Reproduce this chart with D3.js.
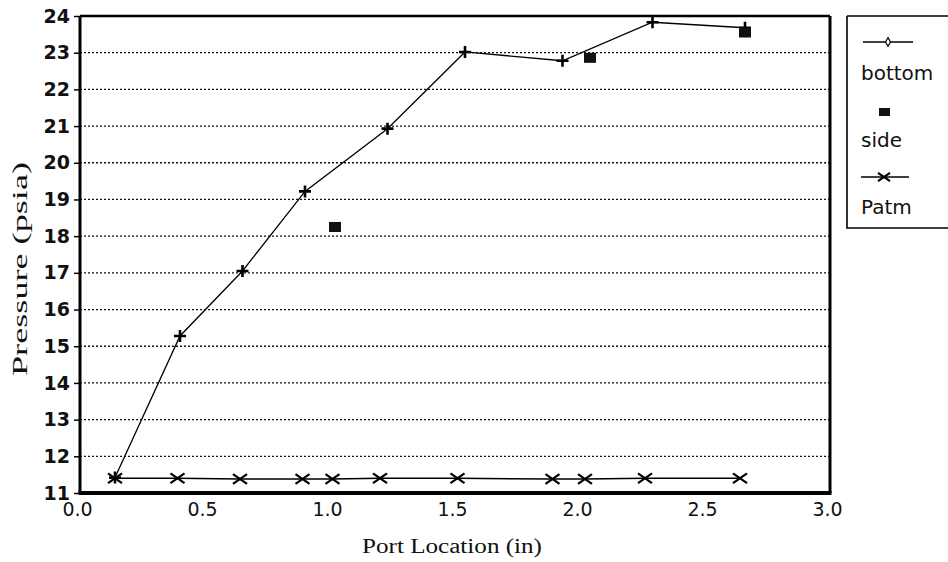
<!DOCTYPE html>
<html>
<head>
<meta charset="utf-8">
<script src="https://cdn.jsdelivr.net/npm/d3@7"></script>
<style>
  body { margin: 0; background: #fff; }
  svg { display: block; }
</style>
</head>
<body>
<div id="container"></div>
<script>
// values
const bottomX = [0.14, 0.40, 0.65, 0.90, 1.23, 1.54, 1.93, 2.29, 2.66];
const bottomY = [11.42, 15.28, 17.05, 19.22, 20.93, 23.02, 22.78, 23.83, 23.68];
const sideX = [1.02, 2.04, 2.66];
const sideY = [18.25, 22.86, 23.55];
const patmX = [0.14, 0.39, 0.64, 0.89, 1.01, 1.20, 1.51, 1.89, 2.02, 2.26, 2.64];
const patmY = [11.4, 11.4, 11.38, 11.38, 11.38, 11.4, 11.4, 11.38, 11.38, 11.4, 11.4];
const xTicks = [0, 0.5, 1, 1.5, 2, 2.5, 3];
const yTicks = [11, 12, 13, 14, 15, 16, 17, 18, 19, 20, 21, 22, 23, 24];
const legendNames = ["bottom", "side", "Patm"];

const width = 948, height = 562;
const margin = { top: 16, right: 118, bottom: 69, left: 80 };

const svg = d3.select("#container")
  .append("svg")
  .attr("width", width)
  .attr("height", height);

svg.append("rect").attr("width", width).attr("height", height).attr("fill", "white");

const x = d3.scaleLinear().domain([0, 3]).range([margin.left, width - margin.right]);
const y = d3.scaleLinear().domain([11, 24]).range([height - margin.bottom, margin.top]);

// dotted grid
svg.append("g")
  .selectAll("line")
  .data(yTicks.filter(d => d > 11 && d < 24))
  .join("line")
  .attr("x1", x(0)).attr("x2", x(3))
  .attr("y1", d => y(d)).attr("y2", d => y(d))
  .attr("stroke", "#111")
  .attr("stroke-width", 1.3)
  .attr("stroke-dasharray", "2,2");

// y axis
const yAxis = svg.append("g")
  .attr("transform", `translate(${x(0)},0)`)
  .call(d3.axisLeft(y).tickValues(yTicks).tickFormat(d3.format("d")).tickSize(6).tickPadding(4));
yAxis.select(".domain").remove();
yAxis.selectAll("line").attr("stroke", "#000").attr("stroke-width", 1.5);
yAxis.selectAll("text")
  .attr("font-family", "DejaVu Sans, Arial, sans-serif")
  .attr("font-size", 19)
  .attr("font-weight", "bold")
  .attr("fill", "#111");

// x axis labels
const xAxis = svg.append("g")
  .attr("transform", `translate(0,${y(11)})`)
  .call(d3.axisBottom(x).tickValues(xTicks).tickFormat(d3.format(".1f")).tickSize(0).tickPadding(10));
xAxis.select(".domain").remove();
xAxis.selectAll("text")
  .attr("x", -3)
  .attr("font-family", "DejaVu Sans, Arial, sans-serif")
  .attr("font-size", 19)
  .attr("fill", "#111");

// frame
svg.append("line").attr("x1", x(0)).attr("x2", x(3)).attr("y1", y(24)).attr("y2", y(24))
  .attr("stroke", "#000").attr("stroke-width", 2.5);
svg.append("line").attr("x1", x(0)).attr("x2", x(0)).attr("y1", y(24)).attr("y2", y(11))
  .attr("stroke", "#000").attr("stroke-width", 3);
svg.append("line").attr("x1", x(3)).attr("x2", x(3)).attr("y1", y(24)).attr("y2", y(11))
  .attr("stroke", "#000").attr("stroke-width", 3);
svg.append("line").attr("x1", x(0) - 1.5).attr("x2", x(3) + 1.5).attr("y1", y(11)).attr("y2", y(11))
  .attr("stroke", "#000").attr("stroke-width", 4);

// axis titles
svg.append("text")
  .attr("x", 362)
  .attr("y", 553)
  .attr("textLength", 180)
  .attr("lengthAdjust", "spacingAndGlyphs")
  .attr("font-family", "Liberation Serif, Times New Roman, serif")
  .attr("font-size", 20)
  .attr("fill", "#111")
  .text("Port Location (in)");

svg.append("text")
  .attr("transform", "translate(27,376) rotate(-90)")
  .attr("textLength", 214)
  .attr("lengthAdjust", "spacingAndGlyphs")
  .attr("font-family", "Liberation Serif, Times New Roman, serif")
  .attr("font-size", 20)
  .attr("fill", "#111")
  .text("Pressure (psia)");

const line = d3.line().x(d => x(d[0])).y(d => y(d[1]));
const bottomData = d3.zip(bottomX, bottomY);
const sideData = d3.zip(sideX, sideY);
const patmData = d3.zip(patmX, patmY);

const plusPath = s => `M${-s},0H${s}M0,${-s}V${s}`;
const xPath = s => `M${-s},${-s * 0.7}L${s},${s * 0.7}M${-s},${s * 0.7}L${s},${-s * 0.7}`;

// Patm series
svg.append("path").datum(patmData).attr("d", line)
  .attr("fill", "none").attr("stroke", "#000").attr("stroke-width", 1.6);
svg.append("g").selectAll("path").data(patmData).join("path")
  .attr("transform", d => `translate(${x(d[0])},${y(d[1])})`)
  .attr("d", xPath(7))
  .attr("fill", "none").attr("stroke", "#000").attr("stroke-width", 2.2);

// bottom series
svg.append("path").datum(bottomData).attr("d", line)
  .attr("fill", "none").attr("stroke", "#000").attr("stroke-width", 1.3);
svg.append("g").selectAll("path").data(bottomData).join("path")
  .attr("transform", d => `translate(${x(d[0])},${y(d[1])})`)
  .attr("d", plusPath(6))
  .attr("fill", "none").attr("stroke", "#000").attr("stroke-width", 2.6);

// side series
svg.append("g").selectAll("rect").data(sideData).join("rect")
  .attr("x", d => x(d[0]) - 6)
  .attr("y", d => y(d[1]) - 5)
  .attr("width", 12)
  .attr("height", 10)
  .attr("fill", "#111");

// legend
const lg = svg.append("g").attr("transform", "translate(847,16)");
lg.append("path")
  .attr("d", "M0,0H104M0,0V212H104")
  .attr("fill", "none").attr("stroke", "#000").attr("stroke-width", 1.6);

lg.append("line").attr("x1", 16).attr("x2", 66).attr("y1", 26).attr("y2", 26)
  .attr("stroke", "#000").attr("stroke-width", 1.4);
lg.append("path").attr("transform", "translate(41,26)")
  .attr("d", d3.symbol(d3.symbolDiamond, 22)).attr("fill", "white").attr("stroke", "#000").attr("stroke-width", 1.2);

lg.append("rect").attr("x", 32).attr("y", 92).attr("width", 11).attr("height", 8).attr("fill", "#111");

lg.append("line").attr("x1", 14).attr("x2", 62).attr("y1", 161).attr("y2", 161)
  .attr("stroke", "#000").attr("stroke-width", 1.6);
lg.append("path").attr("transform", "translate(37,161)")
  .attr("d", xPath(6)).attr("fill", "none").attr("stroke", "#000").attr("stroke-width", 2.2);

lg.selectAll("text.leg").data(legendNames).join("text")
  .attr("class", "leg")
  .attr("x", 14)
  .attr("y", (d, i) => 64 + i * 67)
  .attr("font-family", "DejaVu Sans, Arial, sans-serif")
  .attr("font-size", 20)
  .attr("fill", "#111")
  .text(d => d);
</script>
</body>
</html>
